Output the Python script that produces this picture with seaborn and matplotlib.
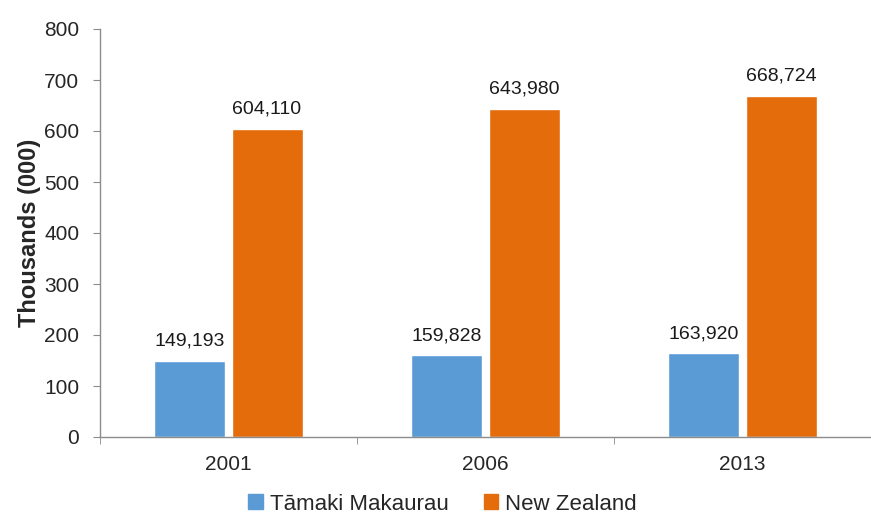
import numpy as np
import pandas as pd
import matplotlib
matplotlib.use("Agg")
import matplotlib.pyplot as plt
import seaborn as sns

years = ["2001", "2006", "2013"]
series = ["Tāmaki Makaurau", "New Zealand"]
tamaki_values = [149193, 159828, 163920]
nz_values = [604110, 643980, 668724]
colors = ["#5B9BD5", "#E46C0A"]

df = pd.DataFrame({
    "year": years * 2,
    "area": [series[0]] * 3 + [series[1]] * 3,
    "count": tamaki_values + nz_values,
})
df["thousands"] = df["count"] / 1000

sns.set_style("white")
plt.rcParams["font.family"] = ["Liberation Sans", "DejaVu Sans"]

fig = plt.figure(figsize=(8.71, 5.2), dpi=100)
ax = fig.add_axes([100 / 871, 1 - 437 / 520, 1 - 100 / 871, 408 / 520])

sns.barplot(
    data=df, x="year", y="thousands", hue="area", order=years, hue_order=series,
    palette=colors, width=0.6, gap=0.08, saturation=1, ax=ax, legend=False,
)

# value labels show the raw counts
for container, vals in zip(ax.containers, [tamaki_values, nz_values]):
    ax.bar_label(container, labels=[f"{v:,}" for v in vals], padding=8,
                 fontsize=14, color="#1a1a1a")

ax.set_ylim(0, 800)
ax.set_yticks(np.arange(0, 801, 100))
ax.set_xlim(-0.5, 2.465)
ax.set_ylabel("Thousands (000)", fontsize=17, fontweight="bold", labelpad=2)
ax.set_xlabel("")

# category labels without ticks, tick marks at category boundaries
ax.set_xticks([0, 1, 2])
ax.set_xticklabels(years, fontsize=15)
ax.set_xticks([-0.5, 0.5, 1.5, 2.5], minor=True)
ax.tick_params(axis="x", which="major", length=0, pad=13)
ax.tick_params(axis="x", which="minor", length=5, color="#8c8c8c", direction="out")
ax.tick_params(axis="y", length=5, color="#8c8c8c", direction="out", labelsize=15, pad=10)
ax.yaxis.set_ticks_position("left")
ax.xaxis.set_ticks_position("bottom")

for side in ["top", "right"]:
    ax.spines[side].set_visible(False)
for side in ["left", "bottom"]:
    ax.spines[side].set_color("#8c8c8c")
    ax.spines[side].set_linewidth(1)

handles = [plt.Rectangle((0, 0), 1, 1, color=c) for c in colors]
fig.legend(handles, series, loc="lower center", bbox_to_anchor=(0.508, -0.028),
           ncol=2, frameon=False, fontsize=16, handlelength=0.65, handleheight=0.65,
           handletextpad=0.3, columnspacing=1.6)

fig.savefig("out.png", dpi=100)
